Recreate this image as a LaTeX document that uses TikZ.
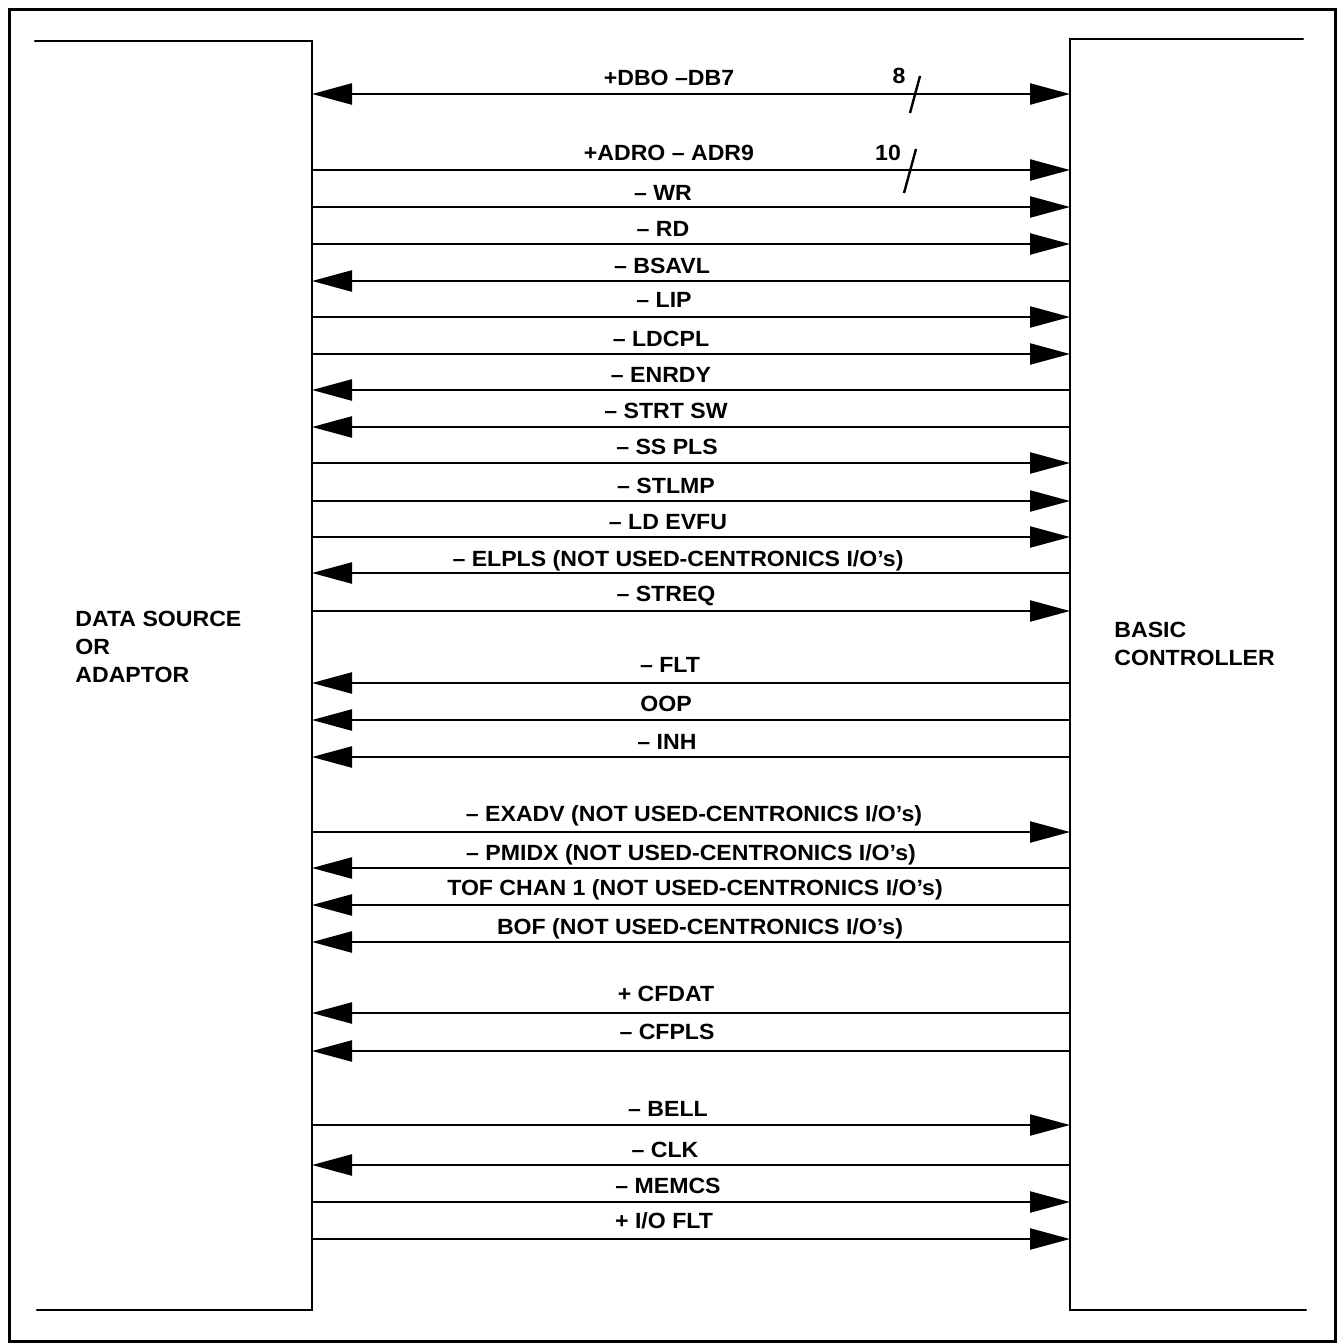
\documentclass[tikz,border=0pt]{standalone}
\usepackage{fontspec}
\setmainfont{Liberation Sans}
\newfontfamily\sigfont{Liberation Sans}[FakeStretch=1.05]
\usetikzlibrary{arrows.meta}
\tikzset{
  frame/.style={line width=1.5pt},
  boxline/.style={line width=1.2pt, line cap=round},
  sig/.style={line width=1.2pt},
  tipR/.style={sig, -{Triangle[length=20pt,width=10.5pt]}},
  tipL/.style={sig, {Triangle[length=20pt,width=10.5pt]}-},
  tipLR/.style={sig, {Triangle[length=20pt,width=10.5pt]}-{Triangle[length=20pt,width=10.5pt]}},
  lbl/.style={anchor=base, inner sep=0pt, font=\sigfont\bfseries\fontsize{11}{13}\selectfont},
  blk/.style={anchor=north west, inner sep=0pt, align=left, font=\sigfont\bfseries\fontsize{11}{14}\selectfont},
}
\begin{document}
\begin{tikzpicture}[x=0.5pt,y=-0.5pt]
\useasboundingbox (0,0) rectangle (1338,1343);
\draw[frame] (9,10) rectangle (1335,1341);
% left block (open on the left)
\coordinate (lt) at (35,41); \coordinate (ltr) at (312,41);
\coordinate (lbr) at (312,1310); \coordinate (lb) at (37,1310);
\draw[boxline] (lt) -- (ltr) -- (lbr) -- (lb);
\node[blk] (src) at (75,611) {DATA SOURCE\\OR\\ADAPTOR};
% right block (open on the right)
\coordinate (rt) at (1303,39); \coordinate (rtl) at (1070,39);
\coordinate (rbl) at (1070,1310); \coordinate (rb) at (1306,1310);
\draw[boxline] (rt) -- (rtl) -- (rbl) -- (rb);
\node[blk] (ctl) at (1114,622) {BASIC\\CONTROLLER};
% signal lines: index / line y / direction / label centre x / label gap / text
\foreach \i/\y/\d/\xc/\g/\t in {
  1/94/LR/669/8/{+DBO –DB7},
  2/170/R/669/9/{+ADRO – ADR9},
  3/207/R/663/7/{– WR},
  4/244/R/663/8/{– RD},
  5/281/L/662/8/{– BSAVL},
  6/317/R/664/10/{– LIP},
  7/354/R/661/8/{– LDCPL},
  8/390/L/661/8/{– ENRDY},
  9/427/L/666/9/{– STRT SW},
  10/463/R/667/9/{– SS PLS},
  11/501/R/666/8/{– STLMP},
  12/537/R/668/8/{– LD EVFU},
  13/573/L/678/7/{– ELPLS (NOT USED-CENTRONICS I/O’s)},
  14/611/R/666/10/{– STREQ},
  15/683/L/670/11/{– FLT},
  16/720/L/666/9/{OOP},
  17/757/L/667/8/{– INH},
  18/832/R/694/11/{– EXADV (NOT USED-CENTRONICS I/O’s)},
  19/868/L/691/8/{– PMIDX (NOT USED-CENTRONICS I/O’s)},
  20/905/L/695/10/{TOF CHAN 1 (NOT USED-CENTRONICS I/O’s)},
  21/942/L/700/8/{BOF (NOT USED-CENTRONICS I/O’s)},
  22/1013/L/666/12/{+ CFDAT},
  23/1051/L/667/12/{– CFPLS},
  24/1125/R/668/9/{– BELL},
  25/1165/L/665/8/{– CLK},
  26/1202/R/668/9/{– MEMCS},
  27/1239/R/664/11/{+ I/O FLT}} {
  \coordinate (a\i) at (312,\y);
  \coordinate (b\i) at (1070,\y);
  \draw[tip\d] (a\i) -- (b\i);
  \node[lbl] (t\i) at (\xc,\y-\g) {\t};
}
% bus width marks
\coordinate (s1a) at (910,113); \coordinate (s1b) at (920,76);
\draw[sig] (s1a) -- (s1b);
\node[lbl] (w1) at (899,84) {8};
\coordinate (s2a) at (904,193); \coordinate (s2b) at (916,149);
\draw[sig] (s2a) -- (s2b);
\node[lbl] (w2) at (888,160) {10};
\end{tikzpicture}
\end{document}
